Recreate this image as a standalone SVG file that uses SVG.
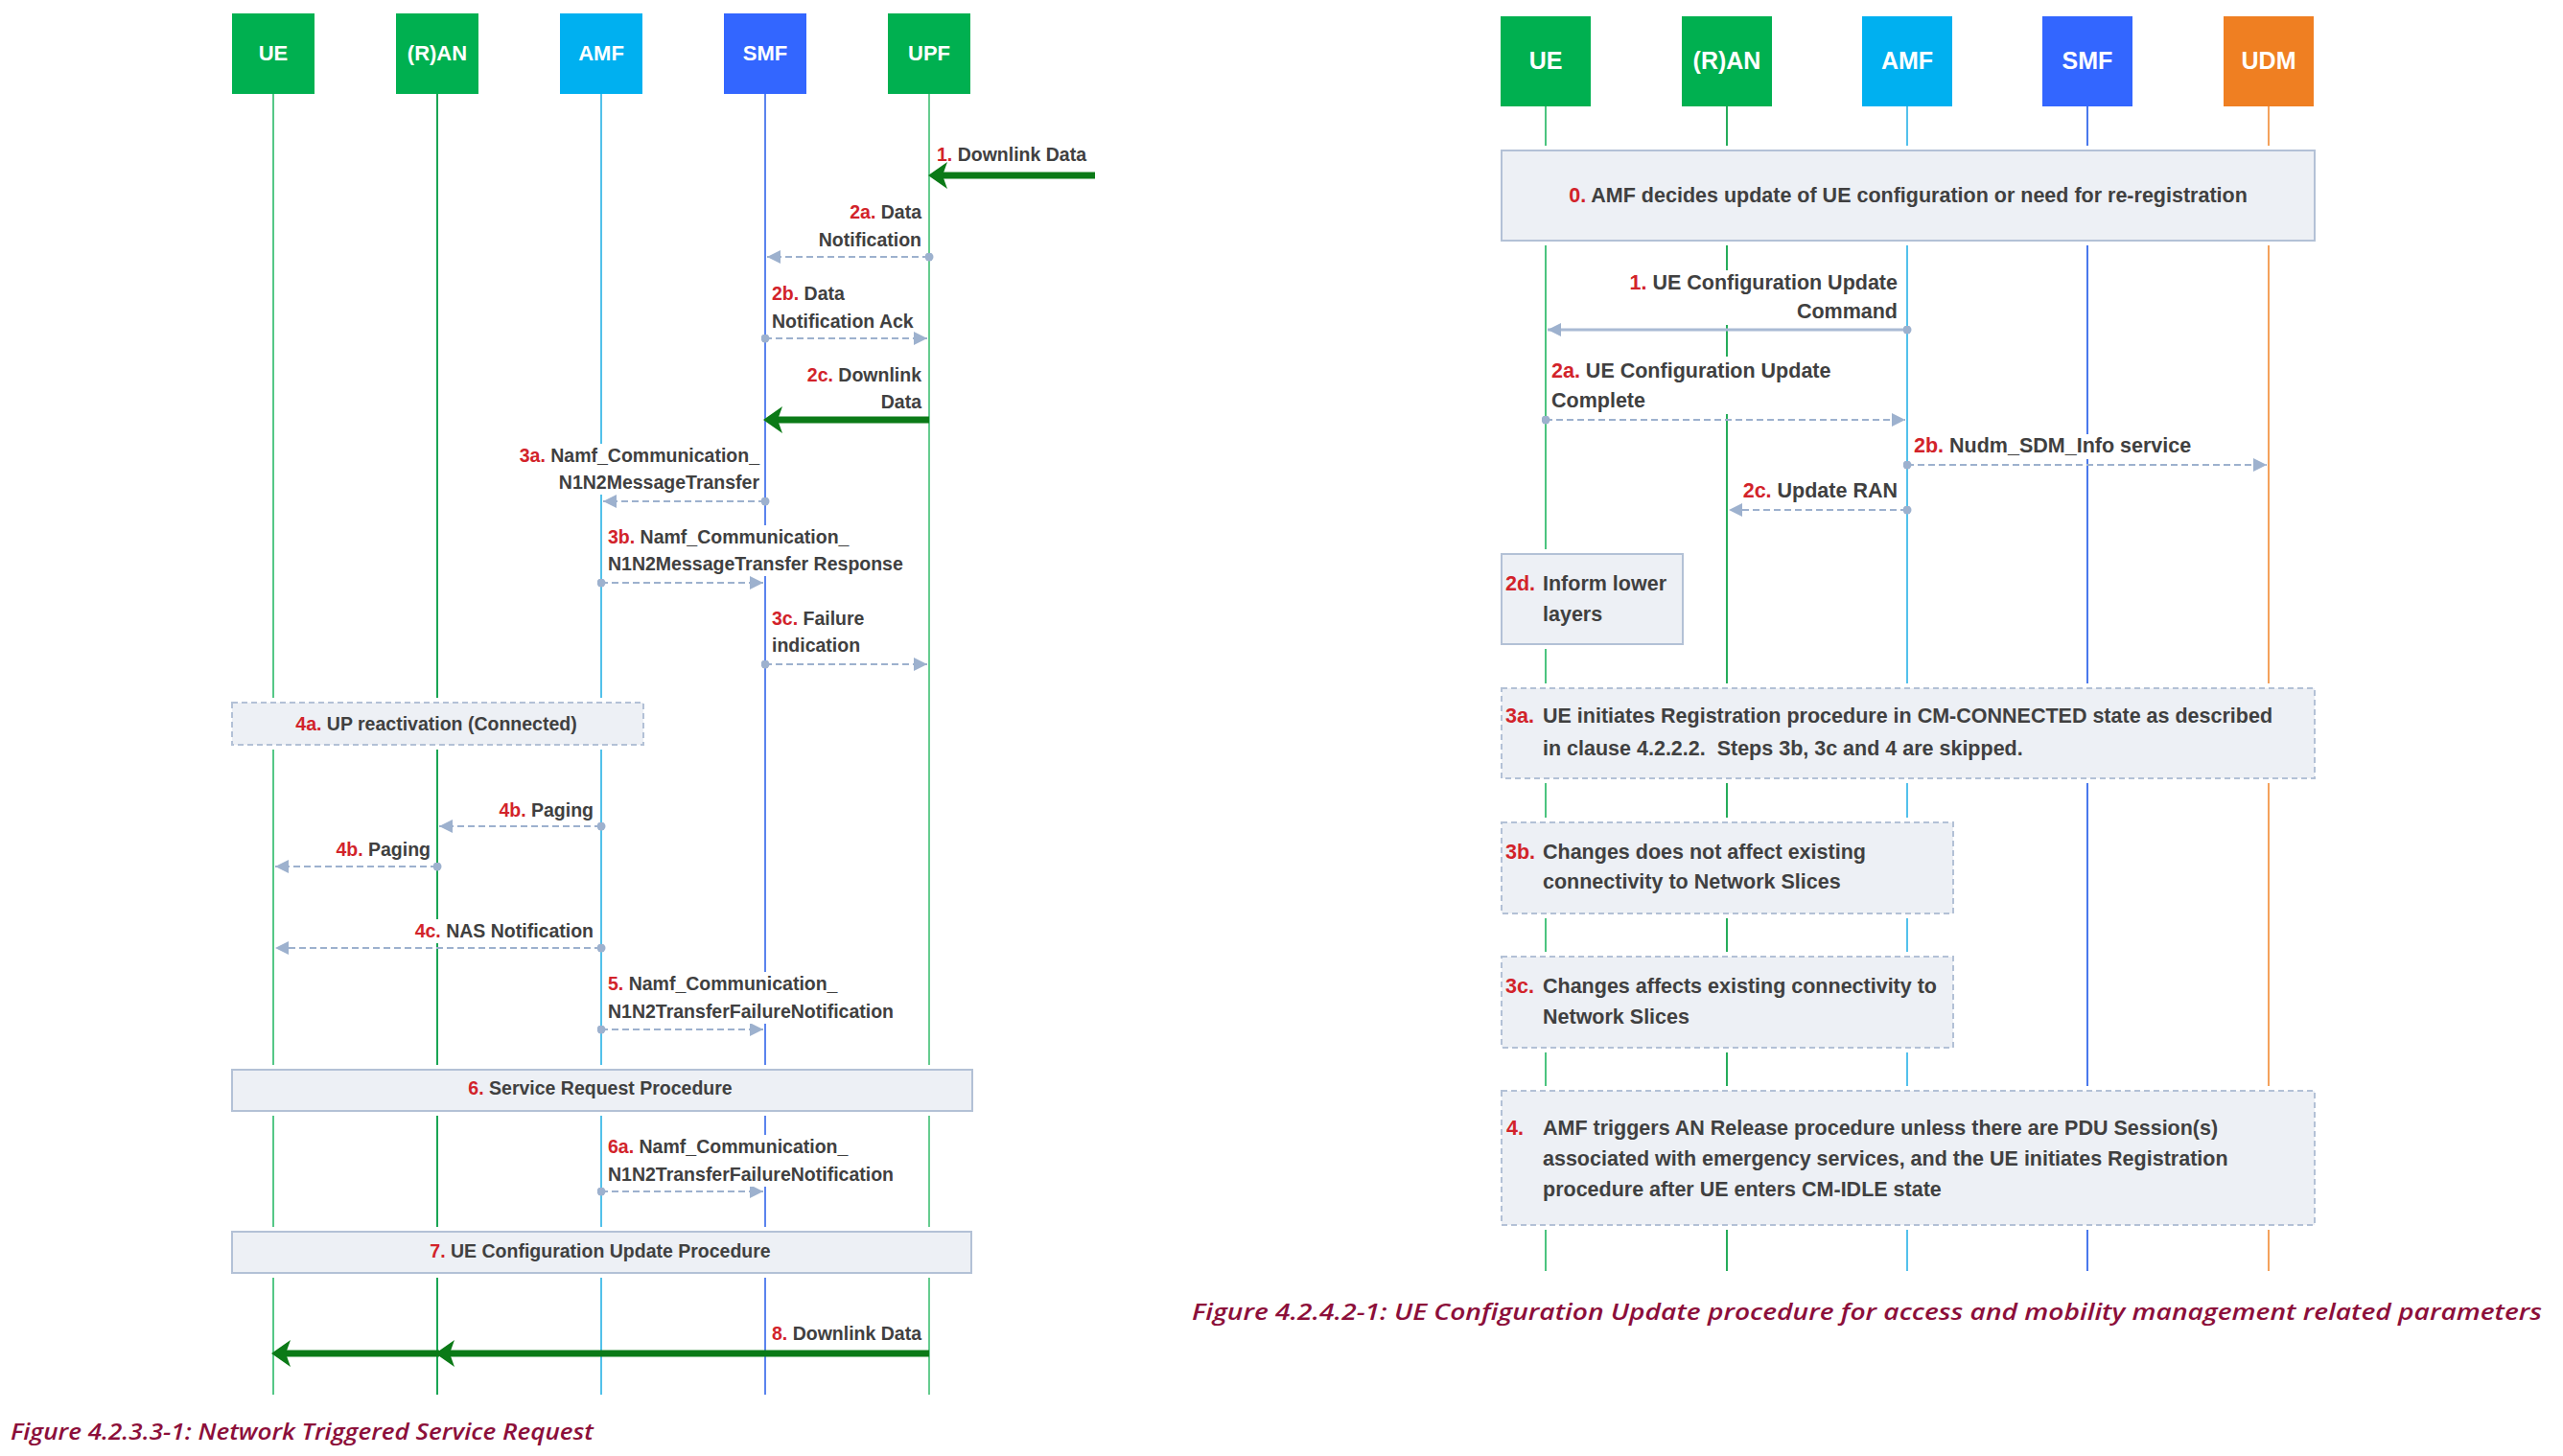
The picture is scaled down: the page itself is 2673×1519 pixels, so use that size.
<svg xmlns="http://www.w3.org/2000/svg" width="2673" height="1519" viewBox="0 0 2673 1519">
<style>
.t{font-family:"Liberation Sans",Arial,sans-serif;font-weight:bold;fill:#404040}
.l{font-size:19.5px}
.r{font-size:21.5px}
.n{fill:#d2232a}
.nt{font-family:"Liberation Sans",Arial,sans-serif;font-weight:bold;fill:#ffffff;text-anchor:middle}
.nl{font-size:22px}
.nr{font-size:25px}
.ll{stroke-width:2;fill:none}
.bk{fill:#ffffff;stroke:#ffffff;stroke-width:10}
.bx{fill:#edf0f5;stroke:#b3c1d6;stroke-width:2}
.dbx{fill:#edf0f5;stroke:#b3c1d6;stroke-width:2;stroke-dasharray:6 4}
.da{stroke:#9db1ce;stroke-width:2.2;fill:none;stroke-dasharray:7 4;marker-start:url(#dot);marker-end:url(#ah)}
.sa{stroke:#a9bad4;stroke-width:3;fill:none;marker-start:url(#dot);marker-end:url(#ah)}
.ga{stroke:#0b7a17;stroke-width:7;fill:none;marker-end:url(#gh)}
.wb{fill:#ffffff}
.cap{font-family:"Open Sans","Liberation Sans",sans-serif;font-style:italic;font-weight:600;font-size:24px;fill:#8c0f3a}
</style>
<defs>
<marker id="ah" viewBox="0 0 14 14" refX="14" refY="7" markerWidth="14" markerHeight="14" markerUnits="userSpaceOnUse" orient="auto"><path d="M0,0 L14,7 L0,14 Z" fill="#9db1ce"/></marker>
<marker id="dot" viewBox="0 0 10 10" refX="5" refY="5" markerWidth="9" markerHeight="9" markerUnits="userSpaceOnUse"><circle cx="5" cy="5" r="5" fill="#9db1ce"/></marker>
<marker id="gh" viewBox="0 0 20 28" refX="8" refY="14" markerWidth="20" markerHeight="28" markerUnits="userSpaceOnUse" orient="auto"><path d="M20,14 L0,0 L5,14 L0,28 Z" fill="#0b7a17"/></marker>
</defs>
<rect width="2673" height="1519" fill="#ffffff"/>

<!-- LEFT DIAGRAM NODES -->
<g id="l-ue"><line class="ll" x1="285" y1="98" x2="285" y2="1455" stroke="#55c787"/><rect x="242" y="14" width="86" height="84" fill="#00b050"/><text class="nt nl" x="285" y="63">UE</text></g>
<g id="l-ran"><line class="ll" x1="456" y1="98" x2="456" y2="1455" stroke="#1aa554"/><rect x="413" y="14" width="86" height="84" fill="#00b050"/><text class="nt nl" x="456" y="63">(R)AN</text></g>
<g id="l-amf"><line class="ll" x1="627" y1="98" x2="627" y2="1455" stroke="#52c1ea"/><rect x="584" y="14" width="86" height="84" fill="#00b0f0"/><text class="nt nl" x="627" y="63">AMF</text></g>
<g id="l-smf"><line class="ll" x1="798" y1="98" x2="798" y2="1455" stroke="#5b84ee"/><rect x="755" y="14" width="86" height="84" fill="#3366ff"/><text class="nt nl" x="798" y="63">SMF</text></g>
<g id="l-upf"><line class="ll" x1="969" y1="98" x2="969" y2="1455" stroke="#66cc8f"/><rect x="926" y="14" width="86" height="84" fill="#00b050"/><text class="nt nl" x="969" y="63">UPF</text></g>

<!-- RIGHT DIAGRAM NODES -->
<g id="r-ue"><line class="ll" x1="1612" y1="111" x2="1612" y2="1326" stroke="#4cc47f"/><rect x="1565" y="17" width="94" height="94" fill="#00b050"/><text class="nt nr" x="1612" y="72">UE</text></g>
<g id="r-ran"><line class="ll" x1="1801" y1="111" x2="1801" y2="1326" stroke="#26ac5a"/><rect x="1754" y="17" width="94" height="94" fill="#00b050"/><text class="nt nr" x="1801" y="72">(R)AN</text></g>
<g id="r-amf"><line class="ll" x1="1989" y1="111" x2="1989" y2="1326" stroke="#53c1ec"/><rect x="1942" y="17" width="94" height="94" fill="#00b0f0"/><text class="nt nr" x="1989" y="72">AMF</text></g>
<g id="r-smf"><line class="ll" x1="2177" y1="111" x2="2177" y2="1326" stroke="#4a78ec"/><rect x="2130" y="17" width="94" height="94" fill="#3366ff"/><text class="nt nr" x="2177" y="72">SMF</text></g>
<g id="r-udm"><line class="ll" x1="2366" y1="111" x2="2366" y2="1326" stroke="#f4a25c"/><rect x="2319" y="17" width="94" height="94" fill="#ef7f22"/><text class="nt nr" x="2366" y="72">UDM</text></g>

<!-- LEFT STEP BOXES -->
<g id="l-4a"><rect class="bk" x="242" y="733" width="429" height="44"/><rect class="dbx" x="242" y="733" width="429" height="44"/><text class="t l" x="455" y="762" text-anchor="middle"><tspan class="n">4a.</tspan> UP reactivation (Connected)</text></g>
<g id="l-6"><rect class="bk" x="242" y="1116" width="772" height="43"/><rect class="bx" x="242" y="1116" width="772" height="43"/><text class="t l" x="626" y="1142" text-anchor="middle"><tspan class="n">6.</tspan> Service Request Procedure</text></g>
<g id="l-7"><rect class="bk" x="242" y="1285" width="771" height="43"/><rect class="bx" x="242" y="1285" width="771" height="43"/><text class="t l" x="626" y="1312" text-anchor="middle"><tspan class="n">7.</tspan> UE Configuration Update Procedure</text></g>

<!-- RIGHT STEP BOXES -->
<g id="r-0"><rect class="bk" x="1566" y="157" width="848" height="94"/><rect class="bx" x="1566" y="157" width="848" height="94"/><text class="t r" x="1990" y="211" text-anchor="middle"><tspan class="n">0.</tspan> AMF decides update of UE configuration or need for re-registration</text></g>
<g id="r-2d"><rect class="bk" x="1566" y="578" width="189" height="94"/><rect class="bx" x="1566" y="578" width="189" height="94"/><text class="t r" x="1570" y="616"><tspan class="n">2d.</tspan></text><text class="t r" x="1609" y="616">Inform lower</text><text class="t r" x="1609" y="648">layers</text></g>
<g id="r-3a"><rect class="bk" x="1566" y="718" width="848" height="94"/><rect class="dbx" x="1566" y="718" width="848" height="94"/><text class="t r" x="1570" y="754"><tspan class="n">3a.</tspan></text><text class="t r" x="1609" y="754">UE initiates Registration procedure in CM-CONNECTED state as described</text><text class="t r" x="1609" y="788" xml:space="preserve">in clause 4.2.2.2.  Steps 3b, 3c and 4 are skipped.</text></g>
<g id="r-3b"><rect class="bk" x="1566" y="858" width="471" height="95"/><rect class="dbx" x="1566" y="858" width="471" height="95"/><text class="t r" x="1570" y="896"><tspan class="n">3b.</tspan></text><text class="t r" x="1609" y="896">Changes does not affect existing</text><text class="t r" x="1609" y="927">connectivity to Network Slices</text></g>
<g id="r-3c"><rect class="bk" x="1566" y="998" width="471" height="95"/><rect class="dbx" x="1566" y="998" width="471" height="95"/><text class="t r" x="1570" y="1036"><tspan class="n">3c.</tspan></text><text class="t r" x="1609" y="1036">Changes affects existing connectivity to</text><text class="t r" x="1609" y="1068">Network Slices</text></g>
<g id="r-4"><rect class="bk" x="1566" y="1138" width="848" height="140"/><rect class="dbx" x="1566" y="1138" width="848" height="140"/><text class="t r" x="1571" y="1184"><tspan class="n">4.</tspan></text><text class="t r" x="1609" y="1184">AMF triggers AN Release procedure unless there are PDU Session(s)</text><text class="t r" x="1609" y="1216">associated with emergency services, and the UE initiates Registration</text><text class="t r" x="1609" y="1248">procedure after UE enters CM-IDLE state</text></g>

<!-- CONNECTORS -->
<g id="connectors">
<!-- left -->
<path class="ga" d="M1142,183 L980,183"/>
<path class="da" d="M969,268 L800,268"/>
<path class="da" d="M798,353 L967,353"/>
<path class="ga" d="M969,438 L808,438"/>
<path class="da" d="M798,523 L629,523"/>
<path class="da" d="M627,608 L796,608"/>
<path class="da" d="M798,693 L967,693"/>
<path class="da" d="M627,862 L458,862"/>
<path class="da" d="M456,904 L287,904"/>
<path class="da" d="M627,989 L287,989"/>
<path class="da" d="M627,1074 L796,1074"/>
<path class="da" d="M627,1243 L796,1243"/>
<path class="ga" d="M969,1412 L466,1412"/>
<path class="ga" d="M458,1412 L295,1412"/>
<!-- right -->
<path class="sa" d="M1989,344 L1614,344"/>
<path class="da" d="M1612,438 L1987,438"/>
<path class="da" d="M1989,485 L2364,485"/>
<path class="da" d="M1989,532 L1803,532"/>
</g>

<!-- CONNECTOR LABELS -->
<g id="labels">
<text class="t l" x="977" y="168"><tspan class="n">1.</tspan> Downlink Data</text>
<text class="t l" x="961" y="228" text-anchor="end"><tspan class="n">2a.</tspan> Data</text>
<text class="t l" x="961" y="257" text-anchor="end">Notification</text>
<text class="t l" x="805" y="313"><tspan class="n">2b.</tspan> Data</text>
<text class="t l" x="805" y="342">Notification Ack</text>
<text class="t l" x="961" y="398" text-anchor="end"><tspan class="n">2c.</tspan> Downlink</text>
<text class="t l" x="961" y="426" text-anchor="end">Data</text>
<rect class="wb" x="535" y="463" width="260" height="53"/>
<text class="t l" x="792" y="482" text-anchor="end"><tspan class="n">3a.</tspan> Namf_Communication_</text>
<text class="t l" x="792" y="510" text-anchor="end">N1N2MessageTransfer</text>
<rect class="wb" x="631" y="548" width="318" height="53"/>
<text class="t l" x="634" y="567"><tspan class="n">3b.</tspan> Namf_Communication_</text>
<text class="t l" x="634" y="595">N1N2MessageTransfer Response</text>
<text class="t l" x="805" y="652"><tspan class="n">3c.</tspan> Failure</text>
<text class="t l" x="805" y="680">indication</text>
<text class="t l" x="619" y="852" text-anchor="end"><tspan class="n">4b.</tspan> Paging</text>
<text class="t l" x="449" y="893" text-anchor="end"><tspan class="n">4b.</tspan> Paging</text>
<rect class="wb" x="428" y="959" width="195" height="25"/>
<text class="t l" x="619" y="978" text-anchor="end"><tspan class="n">4c.</tspan> NAS Notification</text>
<rect class="wb" x="631" y="1014" width="312" height="54"/>
<text class="t l" x="634" y="1033"><tspan class="n">5.</tspan> Namf_Communication_</text>
<text class="t l" x="634" y="1062">N1N2TransferFailureNotification</text>
<rect class="wb" x="631" y="1184" width="312" height="54"/>
<text class="t l" x="634" y="1203"><tspan class="n">6a.</tspan> Namf_Communication_</text>
<text class="t l" x="634" y="1232">N1N2TransferFailureNotification</text>
<text class="t l" x="961" y="1398" text-anchor="end"><tspan class="n">8.</tspan> Downlink Data</text>

<rect class="wb" x="1692" y="282" width="292" height="57"/>
<text class="t r" x="1979" y="302" text-anchor="end"><tspan class="n">1.</tspan> UE Configuration Update</text>
<text class="t r" x="1979" y="332" text-anchor="end">Command</text>
<rect class="wb" x="1614" y="372" width="302" height="60"/>
<text class="t r" x="1618" y="394"><tspan class="n">2a.</tspan> UE Configuration Update</text>
<text class="t r" x="1618" y="425">Complete</text>
<rect class="wb" x="1992" y="453" width="302" height="26"/>
<text class="t r" x="1996" y="472"><tspan class="n">2b.</tspan> Nudm_SDM_Info service</text>
<text class="t r" x="1979" y="519" text-anchor="end"><tspan class="n">2c.</tspan> Update RAN</text>
</g>

<!-- CAPTIONS -->
<text class="cap" x="11" y="1502" textLength="608" lengthAdjust="spacingAndGlyphs">Figure 4.2.3.3-1: Network Triggered Service Request</text>
<text class="cap" x="1243" y="1377" textLength="1408" lengthAdjust="spacingAndGlyphs">Figure 4.2.4.2-1: UE Configuration Update procedure for access and mobility management related parameters</text>
</svg>
